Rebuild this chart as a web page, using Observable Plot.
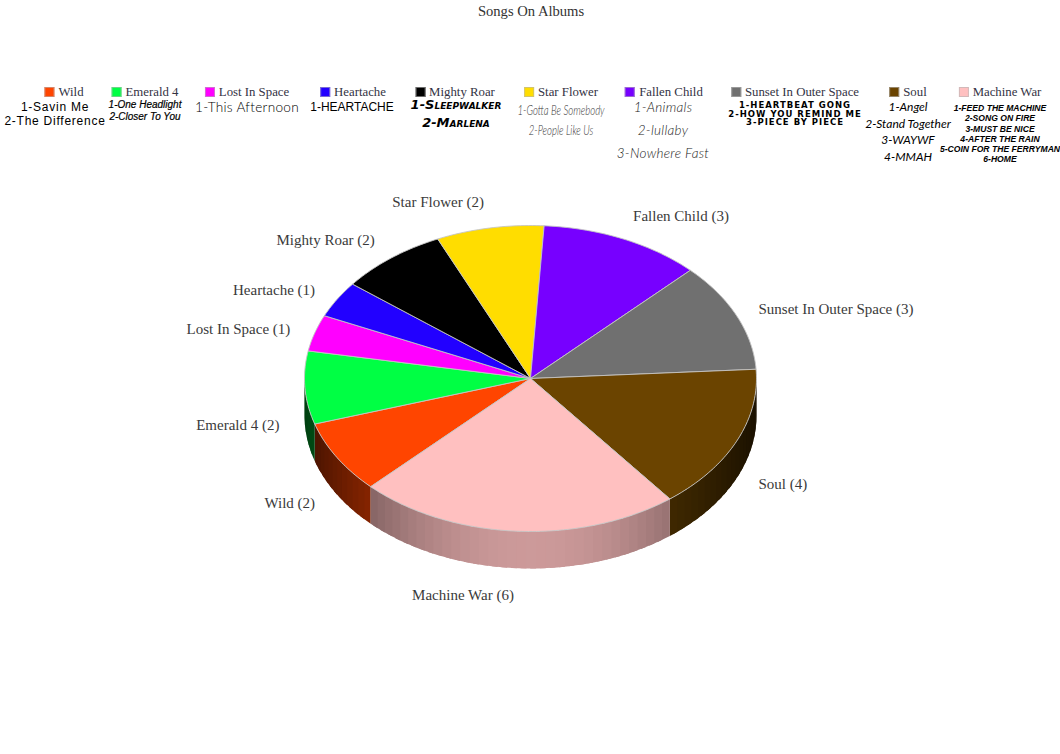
<!DOCTYPE html>
<html><head><meta charset="utf-8">
<script src="https://cdn.jsdelivr.net/npm/d3@7"></script>
<script src="https://cdn.jsdelivr.net/npm/@observablehq/plot@0.6"></script>
<style>
html,body{margin:0;padding:0;background:#fff}
#page{position:relative;width:1060px;height:754px;overflow:hidden}
#title{position:absolute;top:3px;left:0;width:1060px;padding-left:1px;text-align:center;font:14.6px "Liberation Serif",serif;color:#333}
#legend{position:absolute;top:85px;left:0;width:1060px;height:85px}
.col{position:absolute;top:0;transform:translateX(-50%);text-align:center;white-space:nowrap}
.hd{font:12.8px/14px "Liberation Serif",serif;color:#334;height:14px}
.sw{display:inline-block;width:10px;height:10px;margin-right:4px;vertical-align:-1px;outline:1px solid rgba(180,180,180,.6);outline-offset:-1px}
#chart{position:absolute;top:170px;left:0}
#chart svg{display:block}
</style></head><body>
<div id="page">
<div id="title">Songs On Albums</div>
<div id="legend"></div>
<div id="chart"></div>
</div>
<script>
const chartTitle = "Songs On Albums";
const albums = ["Wild","Emerald 4","Lost In Space","Heartache","Mighty Roar","Star Flower","Fallen Child","Sunset In Outer Space","Soul","Machine War"];
const songCounts = [2,2,1,1,2,2,3,3,4,6];
const colors = ["#ff4500","#00ff44","#ff00ff","#2200ff","#000000","#ffdd00","#7700ff","#707070","#6b4400","#ffc0c0"];
const songsWild = ["1-Savin Me","2-The Difference"];
const songsEmerald = ["1-One Headlight","2-Closer To You"];
const songsLost = ["1-This Afternoon"];
const songsHeartache = ["1-HEARTACHE"];
const songsMighty = ["1-Sleepwalker","2-Marlena"];
const songsStar = ["1-Gotta Be Somebody","2-People Like Us"];
const songsFallen = ["1-Animals","2-lullaby","3-Nowhere Fast"];
const songsSunset = ["1-HEARTBEAT GONG","2-HOW YOU REMIND ME","3-PIECE BY PIECE"];
const songsSoul = ["1-Angel","2-Stand Together","3-WAYWF","4-MMAH"];
const songsMachine = ["1-FEED THE MACHINE","2-SONG ON FIRE","3-MUST BE NICE","4-AFTER THE RAIN","5-COIN FOR THE FERRYMAN","6-HOME"];
const songLists = [songsWild,songsEmerald,songsLost,songsHeartache,songsMighty,songsStar,songsFallen,songsSunset,songsSoul,songsMachine];

// legend layout
const colCenters = [55,145,247,352,456,561,663,795,908,1000];
const headShift = [9,0,0,1,-1,0,1,0,0,0];
const songStyles = [
 'font:12px/14px "Liberation Sans",sans-serif;letter-spacing:.75px;padding-top:1px',
 'font:italic 10px/12px "Liberation Sans",sans-serif;-webkit-text-stroke:.2px #000',
 'font:300 13.6px/16px Lato,sans-serif;letter-spacing:.3px',
 'font:12px/16px "Liberation Sans",sans-serif',
 'font:italic 700 13px/18px "DejaVu Sans",sans-serif;font-variant:small-caps;margin-top:-3px',
 'font:italic 300 13px/20px Lato,sans-serif;padding-top:1px;color:#333;transform:scaleX(.74)',
 'font:italic 300 13.5px/23px Lato,sans-serif;margin-top:-3px;color:#222;letter-spacing:.3px',
 'font:700 8.5px/8.6px "DejaVu Sans",sans-serif;padding-top:2px;letter-spacing:1px',
 'font:italic 12px/16.6px Lato,sans-serif',
 'font:italic 700 8.6px/10.3px "Liberation Sans",sans-serif;padding-top:4px'
];
const legend = document.getElementById("legend");
albums.forEach((name,i)=>{
  const c = document.createElement("div");
  c.className = "col"; c.style.left = colCenters[i]+"px";
  const h = document.createElement("div"); h.className = "hd";
  h.style.cssText = `position:relative;left:${headShift[i]}px`;
  const s = document.createElement("span"); s.className = "sw"; s.style.background = colors[i];
  h.append(s, name); c.append(h);
  const l = document.createElement("div"); l.style.cssText = songStyles[i];
  songLists[i].forEach(t=>{const d=document.createElement("div"); d.textContent=t; l.append(d);});
  c.append(l); legend.append(c);
});

// pie geometry, in units of the pie radius
const W = 1060, H = 450;
const pxRx = 226, pxRy = 153, depth = 37/153;
const startDeg = 225;
const pie = d3.pie().sort(null).startAngle(startDeg*Math.PI/180).endAngle((startDeg+360)*Math.PI/180);
const arcs = pie(songCounts);
const px = a => Math.sin(a), py = a => -Math.cos(a);
const topPts = [], wallPts = [], labels = [];
arcs.forEach((s,i)=>{
  const n = Math.max(2, Math.ceil((s.endAngle-s.startAngle)/(Math.PI/180)));
  const k = "t"+i;
  topPts.push({k,x:0,y:0,c:colors[i]});
  for(let j=0;j<=n;j++){
    const a = s.startAngle+(s.endAngle-s.startAngle)*j/n;
    topPts.push({k,x:px(a),y:py(a),c:colors[i]});
  }
  topPts.push({k,x:0,y:0,c:colors[i]});
  // side wall: the front half only, in shaded bands; each band runs under the next so no seam shows
  const step = 2.5*Math.PI/180;
  for(const off of [0,2*Math.PI]){
    const a0 = Math.max(s.startAngle-off, Math.PI/2), a1 = Math.min(s.endAngle-off, 3*Math.PI/2);
    if(a1<=a0) continue;
    const m = Math.ceil((a1-a0)/step);
    for(let j=0;j<m;j++){
      const u=a0+(a1-a0)*j/m, v=a0+(a1-a0)*(j+1)/m, mid=(u+v)/2;
      const v2=Math.min(a1, v+step*.6);
      const dev=mid-Math.PI, f=.25+.55*Math.cos(dev)**2;
      const c0=d3.rgb(colors[i]);
      const col=d3.rgb(c0.r*f,c0.g*f,c0.b*f).formatHex();
      const wk="w"+i+"_"+off+"_"+j;
      const mv=(u+v2)/2;
      [[u,0],[mv,0],[v2,0],[v2,depth],[mv,depth],[u,depth],[u,0]].forEach(([a,d])=>wallPts.push({k:wk,x:px(a),y:py(a)+d,c:col}));
    }
  }
  const mid=(s.startAngle+s.endAngle)/2, sx=px(mid), sy=py(mid);
  labels.push({
    t:`${albums[i]} (${songCounts[i]})`,
    x:sx*250/pxRx,
    y:sy*(160+20*Math.abs(sy))/pxRy+(sy>0?depth:0),
    anchor:sx<0?"end":"start"
  });
});

const cx=530, cy=378-170;
const chart = Plot.plot({
  width:W, height:H, margin:0,
  x:{domain:[-cx/pxRx,(W-cx)/pxRx], range:[0,W], axis:null},
  y:{domain:[-cy/pxRy,(H-cy)/pxRy], range:[0,H], axis:null},
  color:{type:"identity"},
  style:{background:"transparent"},
  marks:[
    Plot.line(wallPts,{x:"x",y:"y",z:"k",fill:"c",stroke:"none"}),
    Plot.line(topPts,{x:"x",y:"y",z:"k",fill:"c",stroke:"#c4c4c4",strokeWidth:.9,strokeLinejoin:"round"}),
    Plot.text(labels.filter(d=>d.anchor==="end"),{x:"x",y:"y",text:"t",textAnchor:"end",dx:-1.5,fontSize:15,fontFamily:"Liberation Serif",fill:"#3a3a3a"}),
    Plot.text(labels.filter(d=>d.anchor==="start"),{x:"x",y:"y",text:"t",textAnchor:"start",fontSize:15,fontFamily:"Liberation Serif",fill:"#3a3a3a"})
  ]
});
document.getElementById("chart").append(chart);
</script>
</body></html>
